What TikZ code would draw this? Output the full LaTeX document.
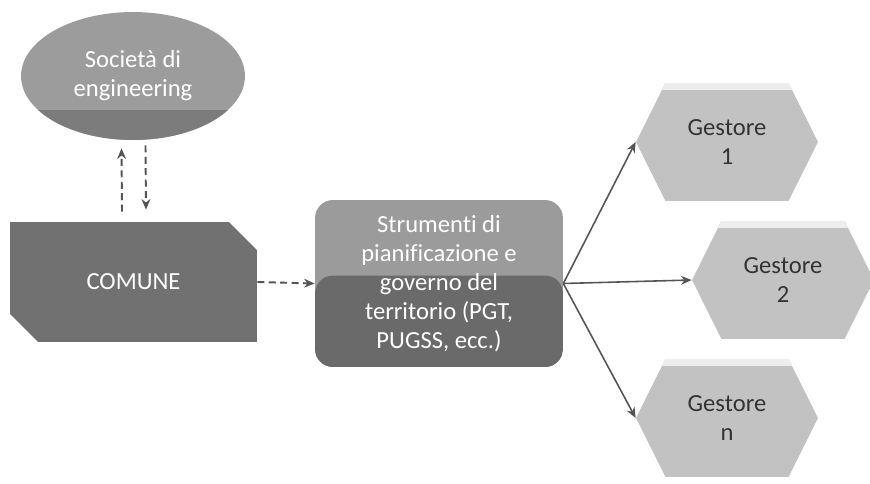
\documentclass[tikz,border=0pt]{standalone}
\usepackage{fontspec}
\setmainfont{Carlito}[RawFeature={-liga,-dlig}]
\usetikzlibrary{shapes.geometric,shapes.misc,shapes.symbols,arrows.meta}

\definecolor{socfill}{HTML}{9C9C9C}
\definecolor{socband}{HTML}{7C7C7C}
\definecolor{comfill}{HTML}{717171}
\definecolor{pgttop}{HTML}{9B9B9B}
\definecolor{pgtbot}{HTML}{6A6A6A}
\definecolor{gesfill}{HTML}{C2C2C2}
\definecolor{gesrim}{HTML}{EDEDED}
\definecolor{linkgray}{HTML}{555555}

\begin{document}
\begin{tikzpicture}[x=0.02cm,y=-0.02cm,
    every node/.style={font=\fontsize{14}{16.5}\selectfont,align=center,inner sep=0pt},
    whitetext/.style={text=white},
    socnode/.style={ellipse,fill=socfill,whitetext,minimum width=4.48cm,minimum height=2.56cm,
      path picture={\fill[socband] (path picture bounding box.south west) rectangle ([yshift=-0.68cm]path picture bounding box.east);}},
    comnode/.style={chamfered rectangle,chamfered rectangle corners={north east,south west},
      chamfered rectangle xsep=0.4cm,chamfered rectangle ysep=0.4cm,fill=comfill,whitetext,
      minimum width=4.94cm,minimum height=2.4cm},
    pgtnode/.style={rectangle,rounded corners=0.36cm,fill=pgttop,whitetext,minimum width=4.96cm,minimum height=3.34cm,
      path picture={\fill[pgtbot] (path picture bounding box.south west) rectangle ([yshift=0.16cm]path picture bounding box.east);}},
    gesnode/.style={signal,signal to=east and west,signal pointer angle=127,fill=gesfill,text=black!80,
      minimum width=3.64cm,minimum height=2.36cm,
      path picture={\fill[gesrim] ([yshift=-0.14cm]path picture bounding box.north west) rectangle (path picture bounding box.north east);}},
    dlink/.style={draw=linkgray,line width=1.1pt,dash pattern=on 4pt off 2.5pt,-{Stealth[length=6pt,width=5pt]}},
    slink/.style={draw=linkgray,line width=0.9pt,-{Stealth[length=6pt,width=5pt]}}]
  \useasboundingbox (0,0) rectangle (870,484);

  % nodes
  \node[socnode] (soc) at (133,76) {Società di\\engineering};
  \node[comnode] (comune) at (133.5,282) {COMUNE};
  \node[pgtnode] (pgt) at (439,283.5) {Strumenti di\\pianificazione e\\governo del\\territorio (PGT,\\PUGSS, ecc.)};
  \node[gesnode] (g1) at (727,142) {Gestore\\1};
  \node[gesnode] (g2) at (783,280) {Gestore\\2};
  \node[gesnode] (gn) at (727,418) {Gestore\\n};

  % links
  \draw[dlink] ([xshift=-0.23cm,yshift=0.2cm]comune.north) -- ([xshift=-0.23cm,yshift=-0.16cm]soc.south);
  \draw[dlink] ([xshift=0.25cm,yshift=-0.1cm]soc.south) -- ([xshift=0.25cm,yshift=0.24cm]comune.north);
  \draw[dlink] (comune.east) -- (pgt.west);
  \draw[slink] (pgt.east) -- (g1.west);
  \draw[slink] (pgt.east) -- (g2.west);
  \draw[slink] (pgt.east) -- (gn.west);
\end{tikzpicture}
\end{document}
